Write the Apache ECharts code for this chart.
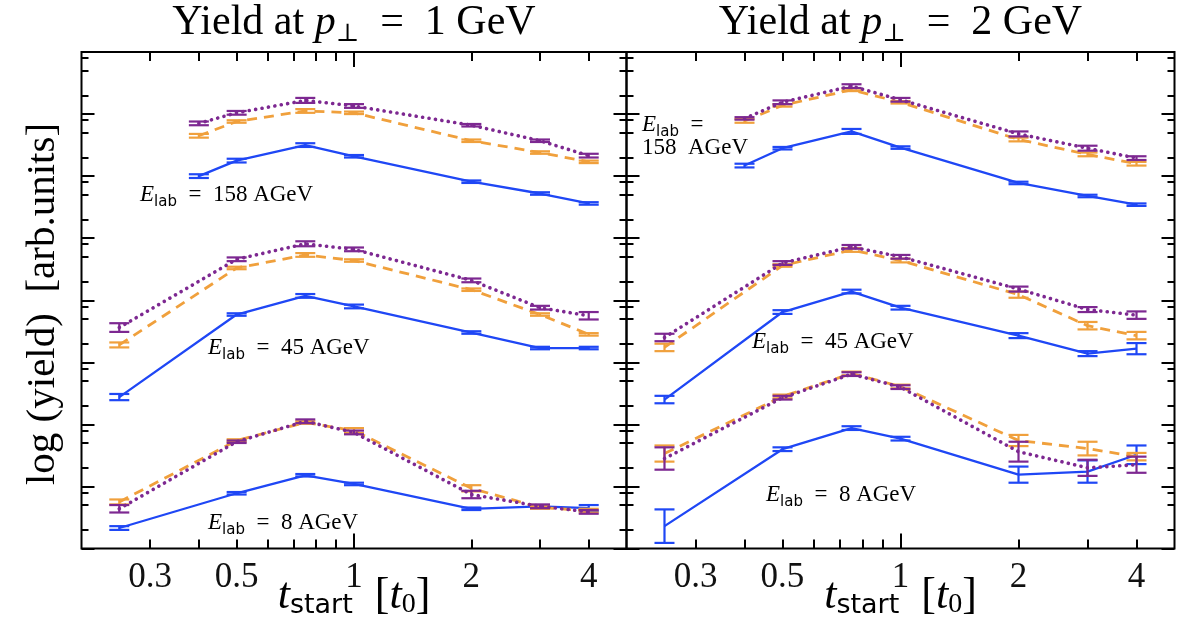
<!DOCTYPE html>
<html>
<head>
<meta charset="utf-8">
<script src="https://cdn.jsdelivr.net/npm/echarts@6.0.0/dist/echarts.min.js"></script>
<style>
html,body{margin:0;padding:0;background:#fff;}
#chart{width:1187px;height:617px;}
</style>
</head>
<body>
<div id="chart"></div>
<script>
// ---------------- data ----------------
const X_158 = [0.4, 0.5, 0.75, 1, 2, 3, 4];
const X_LOW = [0.25, 0.5, 0.75, 1, 2, 3, 4];

const X_TICK_LABELS = [0.3, 0.5, 1, 2, 4];
const X_MINOR_TICKS = [0.3, 0.4, 0.5, 0.6, 0.7, 0.8, 0.9, 2, 3, 4];
const X_MAJOR_TICKS = [1];
const Y_DECADES = [0, 1, 2, 3, 4, 5, 6, 7, 8];
const Y_MINOR_MULT = [2, 5, 8];

const PANEL_PT = ['1', '2'];          // p⊥ in GeV
const ENERGIES = ['158', '45', '8'];  // AGeV

// log(yield) values, panel p⊥ = 1 GeV
const p1_158_blue   = [6.00, 6.25, 6.50, 6.32, 5.91, 5.72, 5.56];
const p1_158_orange = [6.65, 6.88, 7.05, 7.02, 6.57, 6.38, 6.23];
const p1_158_purple = [6.85, 7.02, 7.22, 7.13, 6.82, 6.57, 6.33];
const p1_45_blue    = [2.44, 3.77, 4.07, 3.90, 3.48, 3.23, 3.23];
const p1_45_orange  = [3.28, 4.52, 4.73, 4.64, 4.17, 3.77, 3.45];
const p1_45_purple  = [3.56, 4.66, 4.91, 4.82, 4.32, 3.88, 3.75];
const p1_8_blue     = [0.33, 0.89, 1.18, 1.04, 0.64, 0.68, 0.65];
const p1_8_orange   = [0.75, 1.74, 2.03, 1.90, 0.97, 0.66, 0.61];
const p1_8_purple   = [0.64, 1.72, 2.05, 1.87, 0.87, 0.68, 0.59];

const p1_158_blue_err   = [0.03, 0.03, 0.03, 0.02, 0.02, 0.02, 0.02];
const p1_158_orange_err = [0.03, 0.02, 0.03, 0.02, 0.02, 0.02, 0.02];
const p1_158_purple_err = [0.03, 0.03, 0.04, 0.03, 0.02, 0.02, 0.03];
const p1_45_blue_err    = [0.05, 0.02, 0.03, 0.03, 0.02, 0.02, 0.02];
const p1_45_orange_err  = [0.04, 0.02, 0.03, 0.02, 0.02, 0.02, 0.02];
const p1_45_purple_err  = [0.07, 0.03, 0.04, 0.03, 0.03, 0.03, 0.06];
const p1_8_blue_err     = [0.03, 0.02, 0.02, 0.02, 0.02, 0.02, 0.05];
const p1_8_orange_err   = [0.04, 0.02, 0.02, 0.04, 0.05, 0.02, 0.03];
const p1_8_purple_err   = [0.06, 0.02, 0.03, 0.03, 0.06, 0.03, 0.03];

// log(yield) values, panel p⊥ = 2 GeV
const p2_158_blue   = [6.17, 6.45, 6.72, 6.46, 5.89, 5.68, 5.54];
const p2_158_orange = [6.89, 7.14, 7.39, 7.19, 6.59, 6.35, 6.20];
const p2_158_purple = [6.93, 7.19, 7.45, 7.23, 6.68, 6.45, 6.29];
const p2_45_blue    = [2.40, 3.81, 4.14, 3.88, 3.43, 3.14, 3.22];
const p2_45_orange  = [3.24, 4.56, 4.81, 4.64, 4.09, 3.59, 3.43];
const p2_45_purple  = [3.40, 4.60, 4.86, 4.70, 4.18, 3.85, 3.76];
const p2_8_blue     = [0.36, 1.60, 1.94, 1.77, 1.19, 1.24, 1.51];
const p2_8_orange   = [1.53, 2.45, 2.82, 2.61, 1.74, 1.61, 1.48];
const p2_8_purple   = [1.45, 2.43, 2.81, 2.60, 1.56, 1.30, 1.35];

const p2_158_blue_err   = [0.03, 0.02, 0.04, 0.02, 0.02, 0.02, 0.02];
const p2_158_orange_err = [0.03, 0.02, 0.02, 0.02, 0.03, 0.03, 0.03];
const p2_158_purple_err = [0.02, 0.03, 0.03, 0.03, 0.04, 0.04, 0.03];
const p2_45_blue_err    = [0.06, 0.03, 0.03, 0.03, 0.04, 0.04, 0.09];
const p2_45_orange_err  = [0.06, 0.02, 0.03, 0.03, 0.05, 0.06, 0.06];
const p2_45_purple_err  = [0.06, 0.03, 0.03, 0.03, 0.04, 0.04, 0.06];
const p2_8_blue_err     = [0.27, 0.03, 0.03, 0.03, 0.13, 0.18, 0.15];
const p2_8_orange_err   = [0.13, 0.03, 0.03, 0.03, 0.09, 0.11, 0.06];
const p2_8_purple_err   = [0.18, 0.03, 0.03, 0.03, 0.16, 0.13, 0.13];

// ---------------- styling ----------------
const COLORS = { blue: '#1f47f5', orange: '#f0a03c', purple: '#7d2891' };
const SERIF = '"Liberation Serif", "DejaVu Serif", serif';
const SANS = '"DejaVu Sans", "Liberation Sans", sans-serif';

const GRIDS = [
  { left: 81.5, top: 52, width: 545, height: 496.5 },
  { left: 626.5, top: 52, width: 548, height: 496.5 }
];

const Y_MINOR_TICKS = [];
for (let k = 0; k < Y_DECADES.length - 1; k++) {
  Y_MINOR_MULT.forEach(m => Y_MINOR_TICKS.push(Y_DECADES[k] + Math.log10(m)));
}

const grid = GRIDS.map(g => Object.assign({ show: true, borderColor: '#000', borderWidth: 2, backgroundColor: 'transparent' }, g));

const xAxis = [];
const yAxis = [];
GRIDS.forEach((g, gi) => {
  [['bottom', X_MINOR_TICKS, 9, true], ['bottom', X_MAJOR_TICKS, 15, false],
   ['top', X_MINOR_TICKS, 9, false], ['top', X_MAJOR_TICKS, 15, false]].forEach(([pos, ticks, len, lab]) => {
    xAxis.push({
      type: 'log', gridIndex: gi, position: pos, min: 0.2, max: 5, logBase: 10,
      axisLine: { show: false, onZero: false },
      splitLine: { show: false },
      axisTick: { show: true, inside: true, length: len, customValues: ticks, lineStyle: { color: '#000', width: 2 } },
      axisLabel: lab ? {
        show: true, customValues: X_TICK_LABELS, margin: 12,
        fontFamily: SERIF, fontSize: 35, color: '#111',
        formatter: v => String(+Number(v).toPrecision(3))
      } : { show: false }
    });
  });
  [['left', Y_MINOR_TICKS, 7], ['left', Y_DECADES, 13], ['right', Y_MINOR_TICKS, 7], ['right', Y_DECADES, 13]].forEach(([pos, ticks, len]) => {
    yAxis.push({
      type: 'value', gridIndex: gi, position: pos, min: 0, max: 8,
      axisLine: { show: false, onZero: false },
      splitLine: { show: false },
      axisTick: { show: true, inside: true, length: len, customValues: ticks, lineStyle: { color: '#000', width: 2 } },
      axisLabel: { show: false }
    });
  });
});

function errRenderer(color) {
  return function (params, api) {
    const x = api.value(0), y = api.value(1), e = api.value(2);
    const top = api.coord([x, y + e]);
    const bot = api.coord([x, y - e]);
    const hw = 10;
    const st = { stroke: color, lineWidth: 2.2 };
    return {
      type: 'group',
      children: [
        { type: 'line', shape: { x1: top[0], y1: top[1], x2: bot[0], y2: bot[1] }, style: st },
        { type: 'line', shape: { x1: top[0] - hw, y1: top[1], x2: top[0] + hw, y2: top[1] }, style: st },
        { type: 'line', shape: { x1: bot[0] - hw, y1: bot[1], x2: bot[0] + hw, y2: bot[1] }, style: st }
      ]
    };
  };
}

const LINE_STYLES = {
  blue:   { color: COLORS.blue, width: 2.3, type: 'solid' },
  orange: { color: COLORS.orange, width: 2.8, type: [10, 7] },
  purple: { color: COLORS.purple, width: 3.6, type: [0.1, 6.4], cap: 'round' }
};

const PANELS = [
  { '158': { blue: [p1_158_blue, p1_158_blue_err], orange: [p1_158_orange, p1_158_orange_err], purple: [p1_158_purple, p1_158_purple_err] },
    '45':  { blue: [p1_45_blue, p1_45_blue_err], orange: [p1_45_orange, p1_45_orange_err], purple: [p1_45_purple, p1_45_purple_err] },
    '8':   { blue: [p1_8_blue, p1_8_blue_err], orange: [p1_8_orange, p1_8_orange_err], purple: [p1_8_purple, p1_8_purple_err] } },
  { '158': { blue: [p2_158_blue, p2_158_blue_err], orange: [p2_158_orange, p2_158_orange_err], purple: [p2_158_purple, p2_158_purple_err] },
    '45':  { blue: [p2_45_blue, p2_45_blue_err], orange: [p2_45_orange, p2_45_orange_err], purple: [p2_45_purple, p2_45_purple_err] },
    '8':   { blue: [p2_8_blue, p2_8_blue_err], orange: [p2_8_orange, p2_8_orange_err], purple: [p2_8_purple, p2_8_purple_err] } }
];

const series = [];
PANELS.forEach((panel, gi) => {
  ['blue', 'orange', 'purple'].forEach((model, mi) => {
    ENERGIES.forEach(en => {
      const xs = en === '158' ? X_158 : X_LOW;
      const [vals, errs] = panel[en][model];
      series.push({
        type: 'line', name: model + en, xAxisIndex: gi * 4, yAxisIndex: gi * 4 + 1,
        data: xs.map((x, i) => [x, vals[i]]),
        symbol: 'none', showSymbol: false, lineStyle: LINE_STYLES[model], z: 2 + mi, silent: true
      });
      series.push({
        type: 'custom', name: model + en + 'err', xAxisIndex: gi * 4, yAxisIndex: gi * 4 + 1,
        data: xs.map((x, i) => [x, vals[i], errs[i]]),
        encode: { x: 0, y: 1 },
        renderItem: errRenderer(COLORS[model]), z: 2 + mi, silent: true
      });
    });
  });
});

// ---------------- text ----------------
function elabRich(fs) {
  return {
    e: { fontFamily: SERIF, fontStyle: 'italic', fontSize: fs, lineHeight: fs + 6, color: '#222' },
    s: { fontFamily: SANS, fontSize: Math.round(fs * 0.66), lineHeight: Math.round(fs * 0.66), verticalAlign: 'bottom', color: '#222' },
    n: { fontFamily: SERIF, fontSize: fs, lineHeight: fs + 6, color: '#222' }
  };
}
function txt(x, y, text, rich, align, rotation) {
  return { type: 'text', x: x, y: y, rotation: rotation || 0, silent: true,
           style: { text: text, rich: rich, align: align || 'left', verticalAlign: 'middle' } };
}

const titleRich = {
  n: { fontFamily: SERIF, fontSize: 42, lineHeight: 48, color: '#111' },
  i: { fontFamily: SERIF, fontStyle: 'italic', fontSize: 42, lineHeight: 48, color: '#111' },
  s: { fontFamily: SERIF, fontSize: 25, lineHeight: 21, verticalAlign: 'bottom', color: '#111' }
};
const xlabRich = {
  t: { fontFamily: SERIF, fontStyle: 'italic', fontSize: 44, lineHeight: 46, color: '#111' },
  s: { fontFamily: SANS, fontSize: 27, lineHeight: 22, verticalAlign: 'bottom', color: '#111' },
  z: { fontFamily: SERIF, fontSize: 28, lineHeight: 22, verticalAlign: 'bottom', color: '#111' },
  n: { fontFamily: SERIF, fontSize: 44, lineHeight: 46, color: '#111' }
};
const ylabRich = {
  n: { fontFamily: SERIF, fontSize: 41, lineHeight: 44, color: '#111' }
};

const graphic = [];
GRIDS.forEach((g, gi) => {
  const cx = g.left + g.width / 2;
  graphic.push(txt(cx, 23, '{n|Yield at }{i|p}{s|⊥}{n|  =  ' + PANEL_PT[gi] + ' GeV}', titleRich, 'center'));
  graphic.push(txt(cx, 596, '{t|t}{s|start}{n|  [}{t|t}{z|0}{n|]}', xlabRich, 'center'));
});
const R = elabRich(23);
graphic.push(txt(140, 195, '{e|E}{s|lab}{n|  =  ' + ENERGIES[0] + ' AGeV}', R));
graphic.push(txt(208, 348, '{e|E}{s|lab}{n|  =  ' + ENERGIES[1] + ' AGeV}', R));
graphic.push(txt(208, 523, '{e|E}{s|lab}{n|  =  ' + ENERGIES[2] + ' AGeV}', R));
graphic.push(txt(642, 125, '{e|E}{s|lab}{n|  =}', R));
graphic.push(txt(642, 148, '{n|' + ENERGIES[0] + '  AGeV}', R));
graphic.push(txt(752, 342, '{e|E}{s|lab}{n|  =  ' + ENERGIES[1] + ' AGeV}', R));
graphic.push(txt(766, 495, '{e|E}{s|lab}{n|  =  ' + ENERGIES[2] + ' AGeV}', R));
graphic.push(txt(43, 304, '{n|log (yield)  [arb.units]}', ylabRich, 'center', Math.PI / 2));

const chart = echarts.init(document.getElementById('chart'), null, { renderer: 'canvas' });
chart.setOption({
  animation: false,
  backgroundColor: '#fff',
  grid: grid,
  xAxis: xAxis,
  yAxis: yAxis,
  series: series,
  graphic: graphic
});
</script>
</body>
</html>
